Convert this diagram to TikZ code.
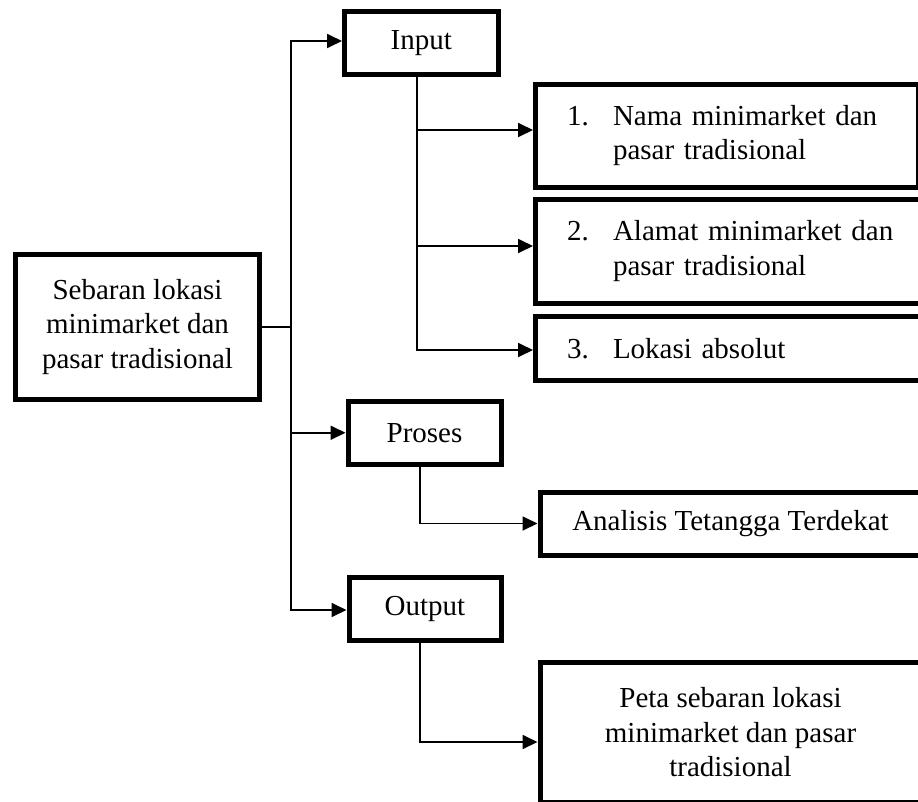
\documentclass[tikz,border=0pt]{standalone}
\usepackage{fontspec}
\setmainfont{Liberation Serif}
\usetikzlibrary{arrows.meta,calc}
\begin{document}
\begin{tikzpicture}[x=1pt,y=-1pt,
  box/.style={draw,line width=5pt,inner sep=0pt,font=\fontsize{29}{34.5}\selectfont,align=center},
  listbox/.style={box,align=left,inner xsep=31.5pt},
  conn/.style={line width=1.8pt},
  arr/.style={conn,-{Triangle[length=15pt,width=14pt]}}]
\useasboundingbox (0,0) rectangle (918,801);
% left column
\node[box,minimum width=244pt,minimum height=145pt] (main) at (137.5,327) {Sebaran lokasi\\minimarket dan\\pasar tradisional};
% middle column
\node[box,minimum width=153.5pt,minimum height=63.5pt] (input) at (421.25,42.75) {Input};
\node[box,minimum width=153pt,minimum height=63.5pt] (proses) at (424.5,432.75) {Proses};
\node[box,minimum width=152pt,minimum height=63pt] (output) at (425,608.5) {Output};
% right column
\node[listbox,text width=320pt,minimum height=102.5pt] (b1) at (727,135.75)
  {\mbox{\makebox[46pt][l]{1.}Nama minimarket dan}\\\hspace*{46pt}pasar tradisional};
\node[listbox,text width=322.5pt,minimum height=103.5pt] (b2) at (728.25,251.25)
  {\mbox{\makebox[46pt][l]{2.}Alamat minimarket dan}\\\hspace*{46pt}pasar tradisional};
\node[listbox,text width=322.5pt,minimum height=64pt] (b3) at (728.25,348.5)
  {\mbox{\makebox[46pt][l]{3.}Lokasi absolut}};
\node[box,minimum width=381pt,minimum height=63pt] (anal) at (730.5,523.5) {Analisis Tetangga Terdekat};
\node[box,minimum width=381pt,minimum height=139.5pt] (final) at (730.5,732.25) {Peta sebaran lokasi\\minimarket dan pasar\\tradisional};
% trunk coordinates
\coordinate (tr) at (291,0);
\coordinate (s1) at (417,0);
\coordinate (s2) at (420,0);
% connectors
\draw[conn] (main.east) -- (main.east -| tr);
\draw[arr] (main.east -| tr) |- ($(input.west)+(0,-1.75)$);
\draw[arr] (main.east -| tr) |- (proses.west);
\draw[arr] (main.east -| tr) |- ($(output.west)+(0,1.5)$);
\draw[arr] (input.south -| s1) |- ($(b1.west)+(0,-5.75)$);
\draw[arr] (input.south -| s1) |- ($(b2.west)+(0,-5.25)$);
\draw[arr] (input.south -| s1) |- ($(b3.west)+(0,1.5)$);
\draw[arr] (proses.south -| s2) |- (anal.west);
\draw[arr] (output.south -| s2) |- ($(final.west)+(0,9.75)$);
\end{tikzpicture}
\end{document}
